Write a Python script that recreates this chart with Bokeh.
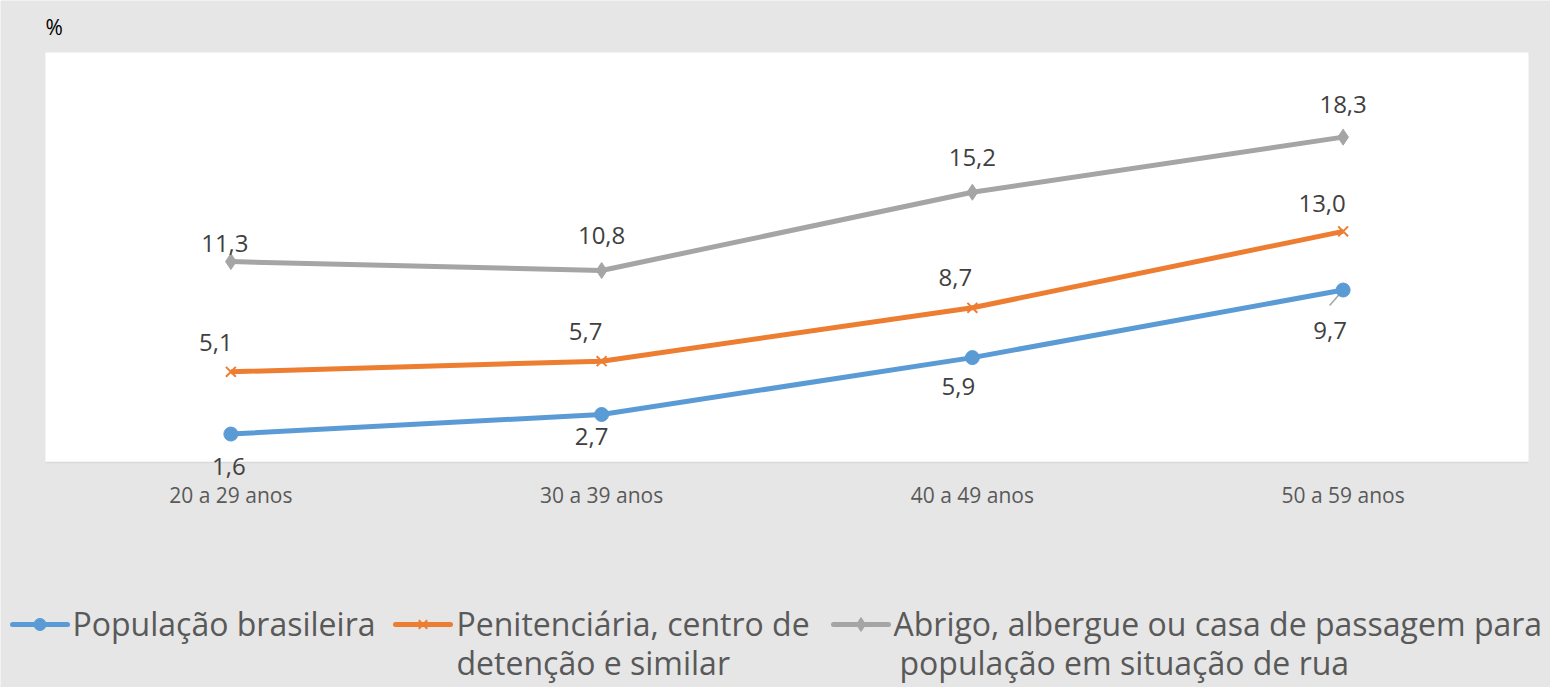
from bokeh.plotting import figure
from bokeh.models import Range1d, ColumnDataSource, LabelSet, BoxAnnotation, FixedTicker
from bokeh.embed import file_html
from bokeh.resources import INLINE
from bokeh.core.properties import value

# ---------------- data ----------------
categories = ["20 a 29 anos", "30 a 39 anos", "40 a 49 anos", "50 a 59 anos"]
series_names = [
    "População brasileira",
    "Penitenciária, centro de detenção e similar",
    "Abrigo, albergue ou casa de passagem para população em situação de rua",
]
legend_lines = [
    ["População brasileira"],
    ["Penitenciária, centro de", "detenção e similar"],
    ["Abrigo, albergue ou casa de passagem para", "população em situação de rua"],
]
pop_brasileira = [1.6, 2.7, 5.9, 9.7]
penitenciaria = [5.1, 5.7, 8.7, 13.0]
abrigo = [11.3, 10.8, 15.2, 18.3]
y_unit_label = "%"

# ---------------- style / layout ----------------
colors = ["#5B9BD5", "#ED7D31", "#A5A5A5"]
markers = ["circle", "x", "diamond"]
marker_sizes = [14, 14, 16]
marker_lw = [1, 2, 1]
# data-label pixel offsets (x right, y up)
label_dx = [[-2, -10, -14, -13], [-15, -16, -17, -21], [-6, 0, 0, 0]]
label_dy = [[-32, -22, -29, -40], [29, 30, 30, 28], [18, 35, 35, 33]]

FONT = "Open Sans"
BG = "#E6E6E6"
W, H = 1550, 687
PLOT_TOP = 52           # top of the white plotting area (px)
PLOT_LEFT, PLOT_RIGHT = 45, 1528   # white plotting area (px)
ZERO_PX = 462           # pixel row of value 0
PX_PER_UNIT = 17.78
n = len(categories)
PX_PER_CAT = (PLOT_RIGHT - PLOT_LEFT) / n

x_start = -0.5 - PLOT_LEFT / PX_PER_CAT
x_end = n - 0.5 + (W - PLOT_RIGHT) / PX_PER_CAT
y_end = ZERO_PX / PX_PER_UNIT
y_start = -(H - ZERO_PX) / PX_PER_UNIT


def px_x(px):
    return x_start + px / PX_PER_CAT


def px_y(py):
    return (ZERO_PX - py) / PX_PER_UNIT


p = figure(
    width=W, height=H,
    x_range=Range1d(x_start, x_end),
    y_range=Range1d(y_start, y_end),
    output_backend="svg", toolbar_location=None,
    y_axis_location=None,
    min_border=0,
    background_fill_color=BG, border_fill_color=BG,
    outline_line_color=None,
)
p.xgrid.grid_line_color = None
p.ygrid.grid_line_color = None

# white plotting area
p.add_layout(BoxAnnotation(left=-0.5, right=n - 0.5, bottom=0, top=px_y(PLOT_TOP),
                           fill_color="white", fill_alpha=1, line_color=None,
                           level="underlay"))

# unit label "%"
p.text(x=[px_x(PLOT_LEFT)], y=[px_y(26)], text=[y_unit_label], text_align="left",
       text_baseline="middle", text_font=value(FONT), text_font_size="21px",
       text_color="#000000")

ax = p.xaxis[0]
ax.fixed_location = 0
ax.bounds = (-0.5, n - 0.5)
ax.ticker = FixedTicker(ticks=list(range(n)))
ax.major_label_overrides = {i: c for i, c in enumerate(categories)}
ax.axis_line_color = "#D9D9D9"
ax.axis_line_width = 1.5
ax.major_tick_line_color = None
ax.minor_tick_line_color = None
ax.major_tick_out = 0
ax.major_tick_in = 0
ax.major_label_standoff = 18
ax.major_label_text_font = FONT
ax.major_label_text_font_size = "21px"
ax.major_label_text_color = "#595959"

all_series = [pop_brasileira, penitenciaria, abrigo]
xs = list(range(n))

# leader line for the last blue label
lead_src = ColumnDataSource(dict(
    x0=[xs[3]], y0=[pop_brasileira[3]],
    x1=[xs[3] - 13.5 / PX_PER_CAT], y1=[pop_brasileira[3] - 15.5 / PX_PER_UNIT],
))
p.segment(x0="x0", y0="y0", x1="x1", y1="y1", source=lead_src,
          line_color="#A6A6A6", line_width=1.5)

for i, vals in enumerate(all_series):
    src = ColumnDataSource(dict(
        x=xs, y=vals,
        label=[f"{v:.1f}".replace(".", ",") for v in vals],
        dx=label_dx[i], dy=label_dy[i],
    ))
    p.line("x", "y", source=src, line_color=colors[i], line_width=5)
    if markers[i] == "x":
        p.scatter("x", "y", source=src, marker="x", size=marker_sizes[i],
                  line_color=colors[i], line_width=marker_lw[i])
    else:
        p.scatter("x", "y", source=src, marker=markers[i], size=marker_sizes[i],
                  fill_color=colors[i], line_color=colors[i], line_width=marker_lw[i])
    p.add_layout(LabelSet(
        x="x", y="y", text="label", x_offset="dx", y_offset="dy", source=src,
        text_align="center", text_baseline="middle",
        text_font=value(FONT), text_font_size="24px", text_color="#404040",
    ))

# ---------------- legend (drawn in the lower band) ----------------
item_line_x0 = [12, 395, 833]
item_text_x = [[72], [456, 456], [893, 899]]
item_line_len = 55
legend_line_py = 624
legend_text_py = [623, 662]

for i in range(3):
    x0 = item_line_x0[i]
    x1 = x0 + item_line_len
    lg_src = ColumnDataSource(dict(x0=[px_x(x0)], x1=[px_x(x1)], y=[px_y(legend_line_py)],
                                   xm=[px_x((x0 + x1) / 2)]))
    p.segment(x0="x0", y0="y", x1="x1", y1="y", source=lg_src, line_color=colors[i],
              line_width=5, line_cap="round")
    if markers[i] == "x":
        p.scatter("xm", "y", source=lg_src, marker="x", size=marker_sizes[i] - 2,
                  line_color=colors[i], line_width=marker_lw[i])
    else:
        p.scatter("xm", "y", source=lg_src, marker=markers[i], size=marker_sizes[i] - 2,
                  fill_color=colors[i], line_color=colors[i])
    lines = legend_lines[i]
    p.text(x=[px_x(v) for v in item_text_x[i][:len(lines)]],
           y=[px_y(b) for b in legend_text_py[:len(lines)]], text=lines,
           text_align="left", text_baseline="middle",
           text_font=value(FONT), text_font_size="32px", text_color="#595959")

open("out.html", "w").write(file_html(p, INLINE))
